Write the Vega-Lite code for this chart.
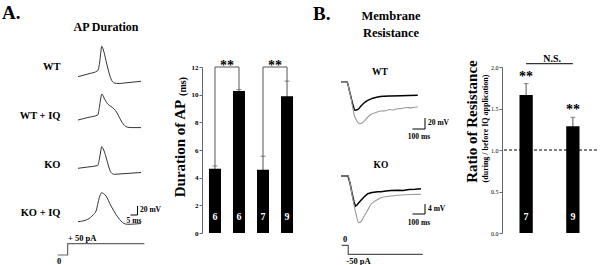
{
"$schema": "https://vega.github.io/schema/vega-lite/v6.json",
"padding": {"left": 1, "top": 4, "right": 0, "bottom": 0},
"bounds": "flush",
"spacing": 20,
"config": {
  "font": "Liberation Serif",
  "view": {"stroke": null},
  "mark": {"color": "#000"},
  "text": {"font": "Liberation Serif", "fontWeight": "bold", "color": "#000", "fill": "#000"},
  "axis": {"labelFont": "Liberation Serif", "titleFont": "Liberation Serif", "labelColor": "#000", "titleColor": "#000", "grid": false}
},
"datasets": {
  "ap": [
    {"trace":"WT","t":0,"v":-65},{"trace":"WT","t":7.1,"v":-59},{"trace":"WT","t":14.1,"v":-51.7},{"trace":"WT","t":15.4,"v":-34.6},{"trace":"WT","t":16.4,"v":-7.9},{"trace":"WT","t":16.9,"v":2.6},{"trace":"WT","t":17.9,"v":-3.4},{"trace":"WT","t":20,"v":-29.4},{"trace":"WT","t":21.8,"v":-52.3},{"trace":"WT","t":23.6,"v":-70.1},{"trace":"WT","t":25.9,"v":-79},{"trace":"WT","t":29.3,"v":-80.1},{"trace":"WT","t":33.1,"v":-79},{"trace":"WT","t":45,"v":-75.2},
    {"trace":"WT+IQ","t":0,"v":-65},{"trace":"WT+IQ","t":7.1,"v":-59.4},{"trace":"WT+IQ","t":14.1,"v":-53.9},{"trace":"WT+IQ","t":15.4,"v":-33.9},{"trace":"WT+IQ","t":16.4,"v":-13.9},{"trace":"WT+IQ","t":17.1,"v":-7.2},{"trace":"WT+IQ","t":18.6,"v":-16.1},{"trace":"WT+IQ","t":21.2,"v":-29.4},{"trace":"WT+IQ","t":23.6,"v":-35},{"trace":"WT+IQ","t":25.9,"v":-40.6},{"trace":"WT+IQ","t":27.9,"v":-49.4},{"trace":"WT+IQ","t":29.5,"v":-59},{"trace":"WT+IQ","t":31.4,"v":-70.1},{"trace":"WT+IQ","t":33.1,"v":-76.7},{"trace":"WT+IQ","t":35.7,"v":-81.2},{"trace":"WT+IQ","t":37.9,"v":-81.9},{"trace":"WT+IQ","t":45,"v":-81.9},
    {"trace":"KO","t":0,"v":-65},{"trace":"KO","t":7.1,"v":-62.1},{"trace":"KO","t":14.1,"v":-58.8},{"trace":"KO","t":15.4,"v":-42.1},{"trace":"KO","t":16.4,"v":-24.3},{"trace":"KO","t":16.9,"v":-17},{"trace":"KO","t":17.9,"v":-21},{"trace":"KO","t":20,"v":-39.9},{"trace":"KO","t":21.8,"v":-59.9},{"trace":"KO","t":23.6,"v":-74.3},{"trace":"KO","t":25.9,"v":-78.3},{"trace":"KO","t":29.3,"v":-77.7},{"trace":"KO","t":34.3,"v":-76.6},{"trace":"KO","t":45,"v":-74.3},
    {"trace":"KO+IQ","t":0,"v":-65},{"trace":"KO+IQ","t":6.9,"v":-59.7},{"trace":"KO+IQ","t":10.7,"v":-50.1},{"trace":"KO+IQ","t":12.9,"v":-41.2},{"trace":"KO+IQ","t":15.2,"v":-11.7},{"trace":"KO+IQ","t":16.9,"v":-0.6},{"trace":"KO+IQ","t":18.2,"v":-2.3},{"trace":"KO+IQ","t":20,"v":-7.9},{"trace":"KO+IQ","t":23.6,"v":-30.1},{"trace":"KO+IQ","t":27.1,"v":-48.6},{"trace":"KO+IQ","t":30.7,"v":-63.4},{"trace":"KO+IQ","t":32.9,"v":-69},{"trace":"KO+IQ","t":35.5,"v":-70.8},{"trace":"KO+IQ","t":45,"v":-69}
  ],
  "stimA": [{"k":0,"t":-14.5,"I":0},{"k":1,"t":-7.4,"I":0},{"k":2,"t":-7.4,"I":50},{"k":3,"t":47.4,"I":50}],
  "stimB": [{"k":0,"t":5,"I":0},{"k":1,"t":58,"I":0},{"k":2,"t":58,"I":-50},{"k":3,"t":654,"I":-50}],
  "rm": [
    {"cell":"WT","cond":"before","t":0,"v":0},{"cell":"WT","cond":"before","t":48,"v":0},{"cell":"WT","cond":"before","t":64,"v":-13.3},{"cell":"WT","cond":"before","t":80,"v":-27.8},{"cell":"WT","cond":"before","t":96,"v":-42.4},{"cell":"WT","cond":"before","t":112,"v":-52},{"cell":"WT","cond":"before","t":136,"v":-50.5},{"cell":"WT","cond":"before","t":160,"v":-44.2},{"cell":"WT","cond":"before","t":184,"v":-38.7},{"cell":"WT","cond":"before","t":214,"v":-33.8},{"cell":"WT","cond":"before","t":248,"v":-30.5},{"cell":"WT","cond":"before","t":294,"v":-27.8},{"cell":"WT","cond":"before","t":344,"v":-26.5},{"cell":"WT","cond":"before","t":400,"v":-26},{"cell":"WT","cond":"before","t":480,"v":-25.5},{"cell":"WT","cond":"before","t":614,"v":-24.7},
    {"cell":"WT","cond":"during","t":0,"v":0},{"cell":"WT","cond":"during","t":48,"v":0},{"cell":"WT","cond":"during","t":64,"v":-13.3},{"cell":"WT","cond":"during","t":80,"v":-29.6},{"cell":"WT","cond":"during","t":96,"v":-49.6},{"cell":"WT","cond":"during","t":108,"v":-62.4},{"cell":"WT","cond":"during","t":120,"v":-68.4},{"cell":"WT","cond":"during","t":136,"v":-74.2},{"cell":"WT","cond":"during","t":154,"v":-76.4},{"cell":"WT","cond":"during","t":168,"v":-75.1},{"cell":"WT","cond":"during","t":186,"v":-71.5},{"cell":"WT","cond":"during","t":208,"v":-66},{"cell":"WT","cond":"during","t":240,"v":-59.3},{"cell":"WT","cond":"during","t":280,"v":-56},{"cell":"WT","cond":"during","t":320,"v":-53.3},{"cell":"WT","cond":"during","t":360,"v":-52.9},{"cell":"WT","cond":"during","t":384,"v":-50.5},{"cell":"WT","cond":"during","t":416,"v":-51.5},{"cell":"WT","cond":"during","t":454,"v":-49.1},{"cell":"WT","cond":"during","t":488,"v":-48.7},{"cell":"WT","cond":"during","t":520,"v":-46.9},{"cell":"WT","cond":"during","t":560,"v":-47.5},{"cell":"WT","cond":"during","t":614,"v":-45.5},
    {"cell":"KO","cond":"before","t":0,"v":0},{"cell":"KO","cond":"before","t":56,"v":0},{"cell":"KO","cond":"before","t":72,"v":-2.8},{"cell":"KO","cond":"before","t":88,"v":-6.8},{"cell":"KO","cond":"before","t":104,"v":-10.4},{"cell":"KO","cond":"before","t":116,"v":-12},{"cell":"KO","cond":"before","t":128,"v":-11.6},{"cell":"KO","cond":"before","t":144,"v":-10.6},{"cell":"KO","cond":"before","t":160,"v":-9.7},{"cell":"KO","cond":"before","t":184,"v":-8.4},{"cell":"KO","cond":"before","t":214,"v":-7.1},{"cell":"KO","cond":"before","t":248,"v":-6.6},{"cell":"KO","cond":"before","t":294,"v":-6.3},{"cell":"KO","cond":"before","t":320,"v":-6.3},{"cell":"KO","cond":"before","t":360,"v":-6},{"cell":"KO","cond":"before","t":400,"v":-5.8},{"cell":"KO","cond":"before","t":454,"v":-5.7},{"cell":"KO","cond":"before","t":496,"v":-5.8},{"cell":"KO","cond":"before","t":544,"v":-5.4},{"cell":"KO","cond":"before","t":592,"v":-5.3},{"cell":"KO","cond":"before","t":640,"v":-5.1},
    {"cell":"KO","cond":"during","t":0,"v":0},{"cell":"KO","cond":"during","t":56,"v":0},{"cell":"KO","cond":"during","t":72,"v":-2.8},{"cell":"KO","cond":"during","t":88,"v":-7.2},{"cell":"KO","cond":"during","t":104,"v":-11.6},{"cell":"KO","cond":"during","t":120,"v":-15.2},{"cell":"KO","cond":"during","t":142,"v":-18.7},{"cell":"KO","cond":"during","t":160,"v":-18.2},{"cell":"KO","cond":"during","t":186,"v":-16},{"cell":"KO","cond":"during","t":214,"v":-13.6},{"cell":"KO","cond":"during","t":240,"v":-11.3},{"cell":"KO","cond":"during","t":280,"v":-9.8},{"cell":"KO","cond":"during","t":320,"v":-8.7},{"cell":"KO","cond":"during","t":384,"v":-8.1},{"cell":"KO","cond":"during","t":454,"v":-7.7},{"cell":"KO","cond":"during","t":520,"v":-7.5},{"cell":"KO","cond":"during","t":576,"v":-7.4},{"cell":"KO","cond":"during","t":640,"v":-7.3}
  ],
  "apDur": [
    {"g":"WT","mean":4.65,"sem":0.2,"n":"6"},
    {"g":"WT+IQ","mean":10.27,"sem":0.1,"n":"6"},
    {"g":"KO","mean":4.58,"sem":0.97,"n":"7"},
    {"g":"KO+IQ","mean":9.88,"sem":1.1,"n":"9"}
  ],
  "brackets": [
    {"b":"1","k":0,"g":"WT","y":4.85},{"b":"1","k":1,"g":"WT","y":12},{"b":"1","k":2,"g":"WT+IQ","y":12},{"b":"1","k":3,"g":"WT+IQ","y":10.37},
    {"b":"2","k":0,"g":"KO","y":5.55},{"b":"2","k":1,"g":"KO","y":12},{"b":"2","k":2,"g":"KO+IQ","y":12},{"b":"2","k":3,"g":"KO+IQ","y":10.98}
  ],
  "ratio": [
    {"g":"WT","mean":1.663,"sem":0.137,"n":"7"},
    {"g":"KO","mean":1.285,"sem":0.109,"n":"9"}
  ]
},
"hconcat": [
  {
    "width": 181, "height": 166,
    "resolve": {"scale": {"y": "independent"}},
    "layer": [
      {"layer": [
        {"data": {"name": "ap"}, "transform": [{"filter": "datum.trace === 'WT'"}], "mark": {"type": "line", "color": "#333", "strokeWidth": 1, "interpolate": "monotone"},
         "encoding": {"x": {"field": "t", "type": "quantitative", "scale": {"domain": [-55, 74.29], "nice": false, "zero": false}, "axis": null}, "y": {"field": "v", "type": "quantitative", "scale": {"domain": [-412.33, -43.44], "nice": false, "zero": false}, "axis": null}}},
        {"data": {"values": [{}]}, "mark": {"type": "text", "text": "A.", "color": "#000", "align": "left", "baseline": "middle", "fontSize": 19},
         "encoding": {"x": {"datum": -54.29, "type": "quantitative", "scale": {"domain": [-55, 74.29], "nice": false, "zero": false}, "axis": null}, "y": {"datum": 76.56, "type": "quantitative", "scale": {"domain": [-412.33, -43.44], "nice": false, "zero": false}, "axis": null}}},
        {"data": {"values": [{}]}, "mark": {"type": "text", "text": "AP Duration", "color": "#000", "align": "center", "baseline": "middle", "fontSize": 12},
         "encoding": {"x": {"datum": 20, "type": "quantitative", "scale": {"domain": [-55, 74.29], "nice": false, "zero": false}, "axis": null}, "y": {"datum": 45.44, "type": "quantitative", "scale": {"domain": [-412.33, -43.44], "nice": false, "zero": false}, "axis": null}}},
        {"data": {"values": [{}]}, "mark": {"type": "text", "text": "WT", "color": "#000", "align": "right", "baseline": "middle", "fontSize": 10.5},
         "encoding": {"x": {"datum": -12.5, "type": "quantitative", "scale": {"domain": [-55, 74.29], "nice": false, "zero": false}, "axis": null}, "y": {"datum": -42.78, "type": "quantitative", "scale": {"domain": [-412.33, -43.44], "nice": false, "zero": false}, "axis": null}}},
        {"data": {"values": [{}]}, "mark": {"type": "text", "text": "WT + IQ", "color": "#000", "align": "right", "baseline": "middle", "fontSize": 10.5},
         "encoding": {"x": {"datum": -12.5, "type": "quantitative", "scale": {"domain": [-55, 74.29], "nice": false, "zero": false}, "axis": null}, "y": {"datum": -152.33, "type": "quantitative", "scale": {"domain": [-412.33, -43.44], "nice": false, "zero": false}, "axis": null}}},
        {"data": {"values": [{}]}, "mark": {"type": "text", "text": "KO", "color": "#000", "align": "right", "baseline": "middle", "fontSize": 10.5},
         "encoding": {"x": {"datum": -12.5, "type": "quantitative", "scale": {"domain": [-55, 74.29], "nice": false, "zero": false}, "axis": null}, "y": {"datum": -261.22, "type": "quantitative", "scale": {"domain": [-412.33, -43.44], "nice": false, "zero": false}, "axis": null}}},
        {"data": {"values": [{}]}, "mark": {"type": "text", "text": "KO + IQ", "color": "#000", "align": "right", "baseline": "middle", "fontSize": 10.5},
         "encoding": {"x": {"datum": -12.5, "type": "quantitative", "scale": {"domain": [-55, 74.29], "nice": false, "zero": false}, "axis": null}, "y": {"datum": -368.56, "type": "quantitative", "scale": {"domain": [-412.33, -43.44], "nice": false, "zero": false}, "axis": null}}},
        {"data": {"values": [{}]}, "mark": {"type": "text", "text": "+ 50 pA", "color": "#000", "align": "left", "baseline": "middle", "fontSize": 8.5},
         "encoding": {"x": {"datum": -7.14, "type": "quantitative", "scale": {"domain": [-55, 74.29], "nice": false, "zero": false}, "axis": null}, "y": {"datum": -423.44, "type": "quantitative", "scale": {"domain": [-412.33, -43.44], "nice": false, "zero": false}, "axis": null}}},
        {"data": {"values": [{}]}, "mark": {"type": "text", "text": "0", "color": "#000", "align": "center", "baseline": "middle", "fontSize": 8.5},
         "encoding": {"x": {"datum": -13.57, "type": "quantitative", "scale": {"domain": [-55, 74.29], "nice": false, "zero": false}, "axis": null}, "y": {"datum": -475.66, "type": "quantitative", "scale": {"domain": [-412.33, -43.44], "nice": false, "zero": false}, "axis": null}}}
      ]},
      {"data": {"name": "ap"}, "transform": [{"filter": "datum.trace === 'WT+IQ'"}], "mark": {"type": "line", "color": "#333", "strokeWidth": 1, "interpolate": "monotone"},
       "encoding": {"x": {"field": "t", "type": "quantitative", "scale": {"domain": [-55, 74.29], "nice": false, "zero": false}, "axis": null}, "y": {"field": "v", "type": "quantitative", "scale": {"domain": [-316.11, 52.78], "nice": false, "zero": false}, "axis": null}}},
      {"data": {"name": "ap"}, "transform": [{"filter": "datum.trace === 'KO'"}], "mark": {"type": "line", "color": "#333", "strokeWidth": 1, "interpolate": "monotone"},
       "encoding": {"x": {"field": "t", "type": "quantitative", "scale": {"domain": [-55, 74.29], "nice": false, "zero": false}, "axis": null}, "y": {"field": "v", "type": "quantitative", "scale": {"domain": [-208.78, 160.11], "nice": false, "zero": false}, "axis": null}}},
      {"layer": [
        {"data": {"name": "ap"}, "transform": [{"filter": "datum.trace === 'KO+IQ'"}], "mark": {"type": "line", "color": "#333", "strokeWidth": 1, "interpolate": "monotone"},
         "encoding": {"x": {"field": "t", "type": "quantitative", "scale": {"domain": [-55, 74.29], "nice": false, "zero": false}, "axis": null}, "y": {"field": "v", "type": "quantitative", "scale": {"domain": [-90.11, 278.78], "nice": false, "zero": false}, "axis": null}}},
        {"data": {"values": [{}]}, "mark": {"type": "rule", "color": "#000", "strokeWidth": 1},
         "encoding": {"x": {"datum": 42.5, "type": "quantitative", "scale": {"domain": [-55, 74.29], "nice": false, "zero": false}, "axis": null}, "y": {"datum": -50.11, "type": "quantitative", "scale": {"domain": [-90.11, 278.78], "nice": false, "zero": false}, "axis": null}, "y2": {"datum": -30.11}}},
        {"data": {"values": [{}]}, "mark": {"type": "rule", "color": "#000", "strokeWidth": 1},
         "encoding": {"x": {"datum": 37.5, "type": "quantitative", "scale": {"domain": [-55, 74.29], "nice": false, "zero": false}, "axis": null}, "x2": {"datum": 42.5}, "y": {"datum": -50.11, "type": "quantitative", "scale": {"domain": [-90.11, 278.78], "nice": false, "zero": false}, "axis": null}}},
        {"data": {"values": [{}]}, "mark": {"type": "text", "text": "20 mV", "color": "#000", "align": "left", "baseline": "middle", "fontSize": 7.5},
         "encoding": {"x": {"datum": 44.29, "type": "quantitative", "scale": {"domain": [-55, 74.29], "nice": false, "zero": false}, "axis": null}, "y": {"datum": -39.0, "type": "quantitative", "scale": {"domain": [-90.11, 278.78], "nice": false, "zero": false}, "axis": null}}},
        {"data": {"values": [{}]}, "mark": {"type": "text", "text": "5 ms", "color": "#000", "align": "center", "baseline": "middle", "fontSize": 7.5},
         "encoding": {"x": {"datum": 40, "type": "quantitative", "scale": {"domain": [-55, 74.29], "nice": false, "zero": false}, "axis": null}, "y": {"datum": -64.55, "type": "quantitative", "scale": {"domain": [-90.11, 278.78], "nice": false, "zero": false}, "axis": null}}}
      ]},
      {"data": {"name": "stimA"}, "mark": {"type": "line", "color": "#666", "strokeWidth": 1.2},
       "encoding": {"x": {"field": "t", "type": "quantitative", "scale": {"domain": [-55, 74.29], "nice": false, "zero": false}, "axis": null}, "y": {"field": "I", "type": "quantitative", "scale": {"domain": [97.35, 831.86], "nice": false, "zero": false}, "axis": null}, "order": {"field": "k"}}}
    ]
  },
  {
    "width": 98, "height": 166,
    "resolve": {"axis": {"y": "independent"}},
    "layer": [
      {"data": {"name": "apDur"}, "mark": {"type": "errorbar", "color": "#555", "thickness": 1, "size": 5, "ticks": true},
       "encoding": {"x": {"field": "g", "type": "nominal", "scale": {"domain": ["WT","WT+IQ","KO","KO+IQ"], "paddingInner": 0.5, "paddingOuter": 0.29}, "axis": null}, "y": {"field": "mean", "type": "quantitative", "scale": {"domain": [0, 12], "nice": false}, "axis": null}, "yError": {"field": "sem"}}},
      {"data": {"name": "apDur"}, "mark": {"type": "bar", "color": "#000"},
       "encoding": {"x": {"field": "g", "type": "nominal", "scale": {"domain": ["WT","WT+IQ","KO","KO+IQ"], "paddingInner": 0.5, "paddingOuter": 0.29}, "axis": {"title": null, "labelAngle": -45, "labelFontSize": 8.5, "labelFontWeight": "bold", "ticks": false, "domainColor": "#777", "labelPadding": 3}},
                    "y": {"field": "mean", "type": "quantitative", "scale": {"domain": [0, 12], "nice": false}, "axis": {"values": [0,2,4,6,8,10,12], "labelFontSize": 7, "labelFontWeight": "bold", "tickSize": 3, "tickColor": "#666", "domainColor": "#666", "labelPadding": 1, "title": "Duration of AP", "titleFontSize": 15, "titleFontWeight": "bold", "titleAngle": -90, "titleX": -23, "titleY": 81, "titleAlign": "center", "titleBaseline": "middle"}}}},
      {"data": {"name": "apDur"}, "mark": {"type": "text", "color": "#fff", "fontSize": 10, "baseline": "middle"},
       "encoding": {"x": {"field": "g", "type": "nominal", "scale": {"domain": ["WT","WT+IQ","KO","KO+IQ"], "paddingInner": 0.5, "paddingOuter": 0.29}, "axis": null},
                    "y": {"datum": 1.18, "type": "quantitative", "scale": {"domain": [0, 12], "nice": false}, "axis": {"orient": "left", "labels": false, "ticks": false, "domain": false, "title": "(ms)", "titleFontSize": 10, "titleFontWeight": "bold", "titleAngle": -90, "titleX": -20, "titleY": 19, "titleAlign": "center", "titleBaseline": "middle"}},
                    "text": {"field": "n"}}},
      {"data": {"name": "brackets"}, "mark": {"type": "line", "color": "#555", "strokeWidth": 1},
       "encoding": {"x": {"field": "g", "type": "nominal", "scale": {"domain": ["WT","WT+IQ","KO","KO+IQ"], "paddingInner": 0.5, "paddingOuter": 0.29}, "axis": null}, "y": {"field": "y", "type": "quantitative", "scale": {"domain": [0, 12], "nice": false}, "axis": null}, "detail": {"field": "b"}, "order": {"field": "k"}}},
      {"data": {"values": [{}]}, "mark": {"type": "text", "text": "**", "color": "#000", "fontSize": 14, "dx": 12, "baseline": "alphabetic", "align": "center"},
       "encoding": {"x": {"datum": "WT", "type": "nominal", "scale": {"domain": ["WT","WT+IQ","KO","KO+IQ"], "paddingInner": 0.5, "paddingOuter": 0.29}, "axis": null}, "y": {"datum": 11.75, "type": "quantitative", "scale": {"domain": [0, 12], "nice": false}, "axis": null}}},
      {"data": {"values": [{}]}, "mark": {"type": "text", "text": "**", "color": "#000", "fontSize": 14, "dx": 12, "baseline": "alphabetic", "align": "center"},
       "encoding": {"x": {"datum": "KO", "type": "nominal", "scale": {"domain": ["WT","WT+IQ","KO","KO+IQ"], "paddingInner": 0.5, "paddingOuter": 0.29}, "axis": null}, "y": {"datum": 11.75, "type": "quantitative", "scale": {"domain": [0, 12], "nice": false}, "axis": null}}}
    ]
  },
  {
    "width": 162, "height": 166,
    "resolve": {"scale": {"y": "independent"}},
    "layer": [
      {"layer": [
        {"data": {"name": "rm"}, "transform": [{"filter": "datum.cell === 'WT' && datum.cond === 'before'"}], "mark": {"type": "line", "color": "#000", "strokeWidth": 1.4, "interpolate": "monotone"},
         "encoding": {"x": {"field": "t", "type": "quantitative", "scale": {"domain": [-168, 1128], "nice": false, "zero": false}, "axis": null}, "y": {"field": "v", "type": "quantitative", "scale": {"domain": [-275.09, 26.73], "nice": false, "zero": false}, "axis": null}}},
        {"data": {"name": "rm"}, "transform": [{"filter": "datum.cell === 'WT' && datum.cond === 'during'"}], "mark": {"type": "line", "color": "#999", "strokeWidth": 1.1, "interpolate": "monotone"},
         "encoding": {"x": {"field": "t", "type": "quantitative", "scale": {"domain": [-168, 1128], "nice": false, "zero": false}, "axis": null}, "y": {"field": "v", "type": "quantitative", "scale": {"domain": [-275.09, 26.73], "nice": false, "zero": false}, "axis": null}}},
        {"data": {"values": [{}]}, "mark": {"type": "rule", "color": "#000", "strokeWidth": 1},
         "encoding": {"x": {"datum": 672, "type": "quantitative", "scale": {"domain": [-168, 1128], "nice": false, "zero": false}, "axis": null}, "y": {"datum": -86, "type": "quantitative", "scale": {"domain": [-275.09, 26.73], "nice": false, "zero": false}, "axis": null}, "y2": {"datum": -66}}},
        {"data": {"values": [{}]}, "mark": {"type": "rule", "color": "#000", "strokeWidth": 1},
         "encoding": {"x": {"datum": 572, "type": "quantitative", "scale": {"domain": [-168, 1128], "nice": false, "zero": false}, "axis": null}, "x2": {"datum": 672}, "y": {"datum": -86, "type": "quantitative", "scale": {"domain": [-275.09, 26.73], "nice": false, "zero": false}, "axis": null}}},
        {"data": {"values": [{}]}, "mark": {"type": "text", "text": "B.", "color": "#000", "align": "left", "baseline": "middle", "fontSize": 19},
         "encoding": {"x": {"datum": -224, "type": "quantitative", "scale": {"domain": [-168, 1128], "nice": false, "zero": false}, "axis": null}, "y": {"datum": 124.0, "type": "quantitative", "scale": {"domain": [-275.09, 26.73], "nice": false, "zero": false}, "axis": null}}},
        {"data": {"values": [{}]}, "mark": {"type": "text", "text": "Membrane", "color": "#000", "align": "center", "baseline": "middle", "fontSize": 12.5},
         "encoding": {"x": {"datum": 400, "type": "quantitative", "scale": {"domain": [-168, 1128], "nice": false, "zero": false}, "axis": null}, "y": {"datum": 119.45, "type": "quantitative", "scale": {"domain": [-275.09, 26.73], "nice": false, "zero": false}, "axis": null}}},
        {"data": {"values": [{}]}, "mark": {"type": "text", "text": "Resistance", "color": "#000", "align": "center", "baseline": "middle", "fontSize": 12.5},
         "encoding": {"x": {"datum": 400, "type": "quantitative", "scale": {"domain": [-168, 1128], "nice": false, "zero": false}, "axis": null}, "y": {"datum": 89.09, "type": "quantitative", "scale": {"domain": [-275.09, 26.73], "nice": false, "zero": false}, "axis": null}}},
        {"data": {"values": [{}]}, "mark": {"type": "text", "text": "WT", "color": "#000", "align": "center", "baseline": "middle", "fontSize": 9.5},
         "encoding": {"x": {"datum": 312, "type": "quantitative", "scale": {"domain": [-168, 1128], "nice": false, "zero": false}, "axis": null}, "y": {"datum": 17.64, "type": "quantitative", "scale": {"domain": [-275.09, 26.73], "nice": false, "zero": false}, "axis": null}}},
        {"data": {"values": [{}]}, "mark": {"type": "text", "text": "KO", "color": "#000", "align": "center", "baseline": "middle", "fontSize": 9.5},
         "encoding": {"x": {"datum": 320, "type": "quantitative", "scale": {"domain": [-168, 1128], "nice": false, "zero": false}, "axis": null}, "y": {"datum": -151.45, "type": "quantitative", "scale": {"domain": [-275.09, 26.73], "nice": false, "zero": false}, "axis": null}}},
        {"data": {"values": [{}]}, "mark": {"type": "text", "text": "20 mV", "color": "#000", "align": "left", "baseline": "middle", "fontSize": 7.5},
         "encoding": {"x": {"datum": 696, "type": "quantitative", "scale": {"domain": [-168, 1128], "nice": false, "zero": false}, "axis": null}, "y": {"datum": -75.09, "type": "quantitative", "scale": {"domain": [-275.09, 26.73], "nice": false, "zero": false}, "axis": null}}},
        {"data": {"values": [{}]}, "mark": {"type": "text", "text": "100 ms", "color": "#000", "align": "center", "baseline": "middle", "fontSize": 7.5},
         "encoding": {"x": {"datum": 624, "type": "quantitative", "scale": {"domain": [-168, 1128], "nice": false, "zero": false}, "axis": null}, "y": {"datum": -101.45, "type": "quantitative", "scale": {"domain": [-275.09, 26.73], "nice": false, "zero": false}, "axis": null}}},
        {"data": {"values": [{}]}, "mark": {"type": "text", "text": "0", "color": "#000", "align": "center", "baseline": "middle", "fontSize": 8.5},
         "encoding": {"x": {"datum": 32, "type": "quantitative", "scale": {"domain": [-168, 1128], "nice": false, "zero": false}, "axis": null}, "y": {"datum": -286.9, "type": "quantitative", "scale": {"domain": [-275.09, 26.73], "nice": false, "zero": false}, "axis": null}}},
        {"data": {"values": [{}]}, "mark": {"type": "text", "text": "-50 pA", "color": "#000", "align": "center", "baseline": "middle", "fontSize": 8.5},
         "encoding": {"x": {"datum": 140, "type": "quantitative", "scale": {"domain": [-168, 1128], "nice": false, "zero": false}, "axis": null}, "y": {"datum": -325.99, "type": "quantitative", "scale": {"domain": [-275.09, 26.73], "nice": false, "zero": false}, "axis": null}}}
      ]},
      {"layer": [
        {"data": {"name": "rm"}, "transform": [{"filter": "datum.cell === 'KO' && datum.cond === 'before'"}], "mark": {"type": "line", "color": "#000", "strokeWidth": 1.5},
         "encoding": {"x": {"field": "t", "type": "quantitative", "scale": {"domain": [-168, 1128], "nice": false, "zero": false}, "axis": null}, "y": {"field": "v", "type": "quantitative", "scale": {"domain": [-22.8, 43.6], "nice": false, "zero": false}, "axis": null}}},
        {"data": {"name": "rm"}, "transform": [{"filter": "datum.cell === 'KO' && datum.cond === 'during'"}], "mark": {"type": "line", "color": "#999", "strokeWidth": 1.1, "interpolate": "monotone"},
         "encoding": {"x": {"field": "t", "type": "quantitative", "scale": {"domain": [-168, 1128], "nice": false, "zero": false}, "axis": null}, "y": {"field": "v", "type": "quantitative", "scale": {"domain": [-22.8, 43.6], "nice": false, "zero": false}, "axis": null}}},
        {"data": {"values": [{}]}, "mark": {"type": "rule", "color": "#000", "strokeWidth": 1},
         "encoding": {"x": {"datum": 672, "type": "quantitative", "scale": {"domain": [-168, 1128], "nice": false, "zero": false}, "axis": null}, "y": {"datum": -15.2, "type": "quantitative", "scale": {"domain": [-22.8, 43.6], "nice": false, "zero": false}, "axis": null}, "y2": {"datum": -11.2}}},
        {"data": {"values": [{}]}, "mark": {"type": "rule", "color": "#000", "strokeWidth": 1},
         "encoding": {"x": {"datum": 572, "type": "quantitative", "scale": {"domain": [-168, 1128], "nice": false, "zero": false}, "axis": null}, "x2": {"datum": 672}, "y": {"datum": -15.2, "type": "quantitative", "scale": {"domain": [-22.8, 43.6], "nice": false, "zero": false}, "axis": null}}},
        {"data": {"values": [{}]}, "mark": {"type": "text", "text": "4 mV", "color": "#000", "align": "left", "baseline": "middle", "fontSize": 7.5},
         "encoding": {"x": {"datum": 696, "type": "quantitative", "scale": {"domain": [-168, 1128], "nice": false, "zero": false}, "axis": null}, "y": {"datum": -13.2, "type": "quantitative", "scale": {"domain": [-22.8, 43.6], "nice": false, "zero": false}, "axis": null}}},
        {"data": {"values": [{}]}, "mark": {"type": "text", "text": "100 ms", "color": "#000", "align": "center", "baseline": "middle", "fontSize": 7.5},
         "encoding": {"x": {"datum": 624, "type": "quantitative", "scale": {"domain": [-168, 1128], "nice": false, "zero": false}, "axis": null}, "y": {"datum": -18.6, "type": "quantitative", "scale": {"domain": [-22.8, 43.6], "nice": false, "zero": false}, "axis": null}}}
      ]},
      {"data": {"name": "stimB"}, "mark": {"type": "line", "color": "#555", "strokeWidth": 1.2},
       "encoding": {"x": {"field": "t", "type": "quantitative", "scale": {"domain": [-168, 1128], "nice": false, "zero": false}, "axis": null}, "y": {"field": "I", "type": "quantitative", "scale": {"domain": [68.33, 990.56], "nice": false, "zero": false}, "axis": null}, "order": {"field": "k"}}}
    ]
  },
  {
    "width": 95, "height": 166,
    "resolve": {"axis": {"y": "independent"}},
    "layer": [
      {"data": {"name": "ratio"}, "mark": {"type": "errorbar", "color": "#555", "thickness": 1, "size": 5, "ticks": true},
       "encoding": {"x": {"field": "g", "type": "nominal", "scale": {"domain": ["WT","KO"], "paddingInner": 0.716, "paddingOuter": 0.374}, "axis": null}, "y": {"field": "mean", "type": "quantitative", "scale": {"domain": [0, 2], "nice": false}, "axis": null}, "yError": {"field": "sem"}}},
      {"data": {"name": "ratio"}, "mark": {"type": "bar", "color": "#000"},
       "encoding": {"x": {"field": "g", "type": "nominal", "scale": {"domain": ["WT","KO"], "paddingInner": 0.716, "paddingOuter": 0.374}, "axis": {"title": null, "labelAngle": -45, "labelFontSize": 10, "labelFontWeight": "bold", "ticks": false, "domainColor": "#777", "labelPadding": 3}},
                    "y": {"field": "mean", "type": "quantitative", "scale": {"domain": [0, 2], "nice": false}, "axis": {"values": [0, 0.5, 1, 1.5, 2], "format": ".1f", "labelFontSize": 6, "tickSize": 3, "tickColor": "#666", "domainColor": "#666", "labelPadding": 1, "title": "Ratio of Resistance", "titleFontSize": 15, "titleFontWeight": "bold", "titleAngle": -90, "titleX": -31, "titleY": 54, "titleAlign": "center", "titleBaseline": "middle"}}}},
      {"data": {"name": "ratio"}, "mark": {"type": "text", "color": "#fff", "fontSize": 10, "baseline": "middle"},
       "encoding": {"x": {"field": "g", "type": "nominal", "scale": {"domain": ["WT","KO"], "paddingInner": 0.716, "paddingOuter": 0.374}, "axis": null},
                    "y": {"datum": 0.196, "type": "quantitative", "scale": {"domain": [0, 2], "nice": false}, "axis": {"orient": "left", "labels": false, "ticks": false, "domain": false, "title": "(during / before IQ application)", "titleFontSize": 8, "titleFontWeight": "bold", "titleAngle": -90, "titleX": -17, "titleY": 61, "titleAlign": "center", "titleBaseline": "middle"}},
                    "text": {"field": "n"}}},
      {"data": {"values": [{}]}, "mark": {"type": "rule", "color": "#000", "strokeWidth": 1, "strokeDash": [3, 2]},
       "encoding": {"y": {"datum": 1, "type": "quantitative", "scale": {"domain": [0, 2], "nice": false}, "axis": null}}},
      {"data": {"values": [{}]}, "mark": {"type": "text", "text": "**", "color": "#000", "fontSize": 14, "baseline": "alphabetic", "align": "center"},
       "encoding": {"x": {"datum": "WT", "type": "nominal", "scale": {"domain": ["WT","KO"], "paddingInner": 0.716, "paddingOuter": 0.374}, "axis": null}, "y": {"datum": 1.83, "type": "quantitative", "scale": {"domain": [0, 2], "nice": false}, "axis": null}}},
      {"data": {"values": [{}]}, "mark": {"type": "text", "text": "**", "color": "#000", "fontSize": 14, "baseline": "alphabetic", "align": "center"},
       "encoding": {"x": {"datum": "KO", "type": "nominal", "scale": {"domain": ["WT","KO"], "paddingInner": 0.716, "paddingOuter": 0.374}, "axis": null}, "y": {"datum": 1.43, "type": "quantitative", "scale": {"domain": [0, 2], "nice": false}, "axis": null}}},
      {"data": {"values": [{}]}, "mark": {"type": "rule", "color": "#333", "strokeWidth": 1.2},
       "encoding": {"x": {"datum": "WT", "type": "nominal", "scale": {"domain": ["WT","KO"], "paddingInner": 0.716, "paddingOuter": 0.374}, "axis": null}, "x2": {"datum": "KO"}, "x2Offset": {"value": 9}, "y": {"datum": 2.04, "type": "quantitative", "scale": {"domain": [0, 2], "nice": false}, "axis": null}}},
      {"data": {"values": [{}]}, "mark": {"type": "text", "text": "N.S.", "color": "#000", "fontSize": 10, "baseline": "alphabetic", "align": "center", "dx": 26},
       "encoding": {"x": {"datum": "WT", "type": "nominal", "scale": {"domain": ["WT","KO"], "paddingInner": 0.716, "paddingOuter": 0.374}, "axis": null}, "y": {"datum": 2.065, "type": "quantitative", "scale": {"domain": [0, 2], "nice": false}, "axis": null}}}
    ]
  }
]
}
